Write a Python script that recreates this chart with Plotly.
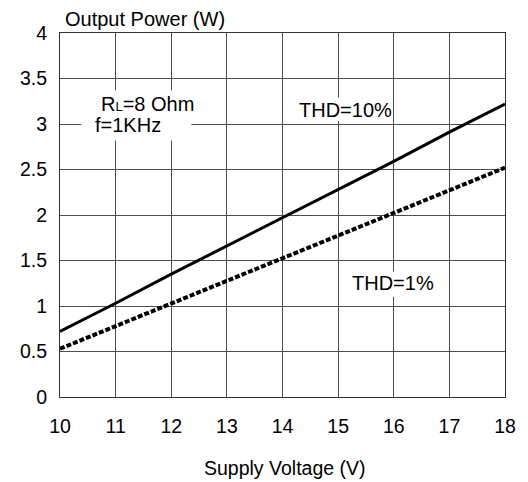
import plotly.graph_objects as go

voltage = [10, 11, 12, 13, 14, 15, 16, 17, 18]
thd10 = [0.72, 1.03, 1.35, 1.66, 1.97, 2.28, 2.59, 2.91, 3.22]
thd1 = [0.53, 0.78, 1.03, 1.28, 1.53, 1.78, 2.02, 2.27, 2.52]
x_ticks = [10, 11, 12, 13, 14, 15, 16, 17, 18]
y_ticks = [0, 0.5, 1, 1.5, 2, 2.5, 3, 3.5, 4]
y_labels = ["0", "0.5", "1", "1.5", "2", "2.5", "3", "3.5", "4"]

FONT = "Liberation Sans, Arial, sans-serif"

fig = go.Figure()
fig.add_trace(go.Scatter(x=voltage, y=thd10, mode="lines",
                         line=dict(color="black", width=3), name="THD=10%"))
fig.add_trace(go.Scatter(x=voltage, y=thd1, mode="lines",
                         line=dict(color="black", width=4, dash="5px,2px"), name="THD=1%"))

# white boxes behind the in-plot labels (between gridlines and traces)
boxes = [
    (10.38, 2.82, 12.36, 3.37),   # RL / f box
    (14.3, 3.03, 15.97, 3.29),    # THD=10% box
    (15.3, 1.1, 16.8, 1.38),      # THD=1% box
]
shapes = [dict(type="rect", xref="x", yref="y", x0=a, y0=b, x1=c, y1=d,
               fillcolor="white", line=dict(width=0), layer="between")
          for a, b, c, d in boxes]

fig.update_layout(
    width=520, height=474,
    margin=dict(l=43, r=20, t=25, b=85),
    paper_bgcolor="white", plot_bgcolor="white",
    showlegend=False,
    font=dict(family=FONT, color="black", size=20),
    xaxis=dict(range=[10, 18], tickvals=x_ticks, showgrid=True, gridcolor="#4d4d4d",
               gridwidth=1, showline=True, linecolor="#333333", linewidth=1, mirror=True,
               ticks="", zeroline=False, tickfont=dict(size=19.5), ticklabelstandoff=12),
    yaxis=dict(range=[0, 4], tickvals=y_ticks, ticktext=y_labels, showgrid=True,
               gridcolor="#4d4d4d", gridwidth=1, showline=True, linecolor="#333333",
               linewidth=1, mirror=True, ticks="", zeroline=False, tickfont=dict(size=19.5),
               ticklabelstandoff=8),
    shapes=shapes,
    annotations=[
        dict(text="Output Power (W)", x=0, y=1, xref="paper", yref="paper",
             xshift=3, yshift=14, showarrow=False, xanchor="left", yanchor="middle",
             font=dict(size=20)),
        dict(text="Supply Voltage (V)", x=0.5, y=0, xref="paper", yref="paper",
             yshift=-71, xshift=2, showarrow=False, yanchor="middle", font=dict(size=19.5)),
        dict(text="R<span style='font-size:13px'>L</span>=8 Ohm", x=10.7, y=3.22,
             xref="x", yref="y", showarrow=False, xanchor="left", yanchor="middle",
             font=dict(size=20)),
        dict(text="f=1KHz", x=10.6, y=2.99, xref="x", yref="y", showarrow=False,
             xanchor="left", yanchor="middle", font=dict(size=20)),
        dict(text="THD=10%", x=15.13, y=3.155, xref="x", yref="y", showarrow=False,
             font=dict(size=20)),
        dict(text="THD=1%", x=15.99, y=1.25, xref="x", yref="y", showarrow=False,
             font=dict(size=20)),
    ],
)
fig.write_html("out.html")
